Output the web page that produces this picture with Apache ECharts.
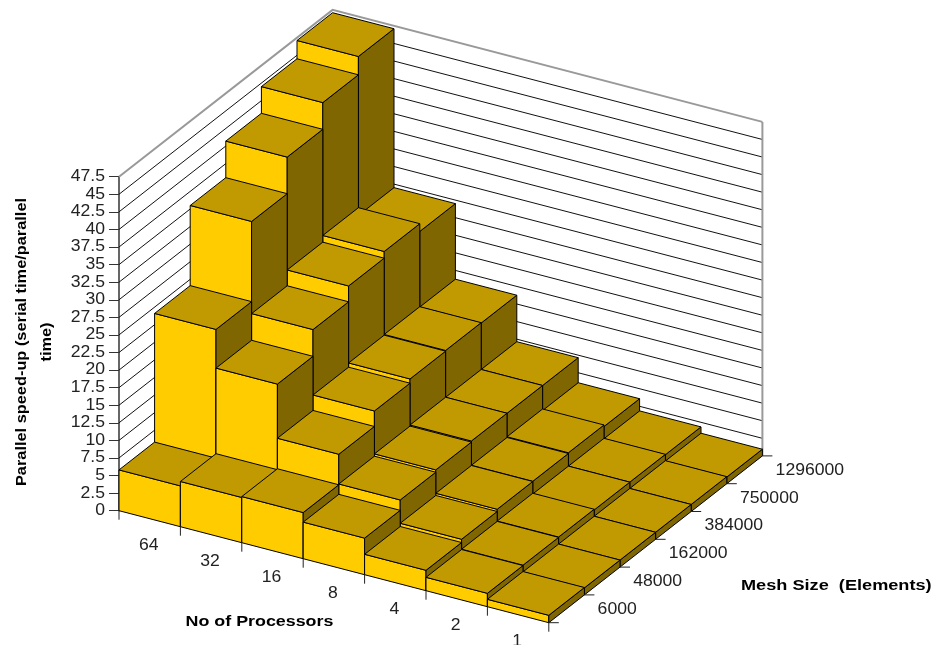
<!DOCTYPE html>
<html>
<head>
<meta charset="utf-8">
<style>html,body{margin:0;padding:0;background:#fff}#chart{width:940px;height:645px}</style>
<script src="https://cdn.jsdelivr.net/npm/echarts@6/dist/echarts.min.js"></script>
</head>
<body>
<div id="chart"></div>
<script>
// Categories along the two floor axes
const processorCounts = ['64', '32', '16', '8', '4', '2', '1'];
const meshSizes = ['6000', '48000', '162000', '384000', '750000', '1296000'];

// Parallel speed-up per mesh size, ordered as processorCounts
const speedUp6000    = [5.8, 6.43, 6.56, 5.2, 2.9, 1.9, 1.05];
const speedUp48000   = [24.1, 18.6, 10.9, 6.67, 3.36, 1.95, 1];
const speedUp162000  = [35.5, 22.4, 13.1, 7.0, 3.67, 2.0, 1];
const speedUp384000  = [40.7, 24.65, 13.7, 7.15, 3.7, 1.9, 1];
const speedUp750000  = [44.5, 25.6, 13.8, 7.14, 3.8, 1.9, 1];
const speedUp1296000 = [47.1, 24.5, 13.75, 7.14, 3.58, 1.85, 0.95];
const seriesByMesh = [speedUp6000, speedUp48000, speedUp162000, speedUp384000, speedUp750000, speedUp1296000];

const valueTicks = [];
for (let k = 0; k <= 19; k++) valueTicks.push(k * 2.5);

// Oblique projection: the cartesian grid supplies the front plane, these tilt it
const SLOPE_PER_PROC = 16;      // front edge falls this much per processor slot
const DEPTH_DX = 35.6;          // screen shift per mesh slot
const DEPTH_DY = -27.8;

const COLOR_FRONT = '#FFCC00';
const COLOR_TOP = '#C09A00';
const COLOR_SIDE = '#806600';
const TEXT_COLOR = '#222';
const LABEL_FONT = '16px "Liberation Sans", Arial, sans-serif';
const TITLE_FONT = 'bold 15px "Liberation Sans", Arial, sans-serif';
const LABEL_STRETCH = 1.1;      // wide-set numerals

function project(api, i, j, v) {
  const p = api.coord([i, v]);
  return [p[0] + j * DEPTH_DX, p[1] + i * SLOPE_PER_PROC + j * DEPTH_DY];
}

function face(points, color) {
  return {
    type: 'polygon',
    shape: { points },
    style: { fill: color, stroke: '#000', lineWidth: 1, lineJoin: 'round' }
  };
}

function labelText(text, x, y, align) {
  return {
    type: 'text',
    x: x,
    y: y,
    scaleX: LABEL_STRETCH,
    style: { text, x: 0, y: 0, fill: TEXT_COLOR, font: LABEL_FONT, textAlign: align, textVerticalAlign: 'middle' }
  };
}

function renderBar(params, api) {
  const i = api.value(0), j = api.value(1), v = api.value(2);
  const P = (a, b, h) => project(api, a, b, h);
  return {
    type: 'group',
    children: [
      face([P(i, j, 0), P(i + 1, j, 0), P(i + 1, j, v), P(i, j, v)], COLOR_FRONT),
      face([P(i + 1, j, 0), P(i + 1, j + 1, 0), P(i + 1, j + 1, v), P(i + 1, j, v)], COLOR_SIDE),
      face([P(i, j, v), P(i + 1, j, v), P(i + 1, j + 1, v), P(i, j + 1, v)], COLOR_TOP)
    ]
  };
}

function renderWallLine(params, api) {
  const v = api.value(0);
  const np = processorCounts.length, nm = meshSizes.length;
  const isTop = params.dataIndex === valueTicks.length - 1;
  return {
    type: 'polyline',
    shape: { points: [project(api, 0, 0, v), project(api, 0, nm, v), project(api, np, nm, v)] },
    style: { fill: null, stroke: isTop ? '#999' : '#111', lineWidth: isTop ? 2 : 1 }
  };
}

function renderRightEdge(params, api) {
  const np = processorCounts.length, nm = meshSizes.length;
  const a = project(api, np, nm, 0), b = project(api, np, nm, valueTicks[valueTicks.length - 1]);
  return {
    type: 'line',
    shape: { x1: a[0], y1: a[1], x2: b[0], y2: b[1] },
    style: { stroke: '#999', lineWidth: 2 }
  };
}

function renderValueLabel(params, api) {
  const v = api.value(0);
  const p = project(api, 0, 0, v);
  return labelText(String(v), p[0] - 14, p[1], 'right');
}

function renderProcessorAxis(params, api) {
  const idx = api.value(0);
  const children = [];
  const a = project(api, idx, 0, 0);
  children.push({ type: 'line', shape: { x1: a[0], y1: a[1], x2: a[0], y2: a[1] + 9 }, style: { stroke: '#222', lineWidth: 1 } });
  if (idx < processorCounts.length) {
    const c = project(api, idx + 0.5, 0, 0);
    children.push(labelText(processorCounts[idx], c[0] - 1, c[1] + 26.5, 'center'));
  }
  return { type: 'group', children };
}

function renderMeshAxis(params, api) {
  const idx = api.value(0);
  const np = processorCounts.length;
  const children = [];
  const a = project(api, np, idx, 0);
  children.push({ type: 'line', shape: { x1: a[0], y1: a[1], x2: a[0] + 10, y2: a[1] }, style: { stroke: '#222', lineWidth: 1 } });
  if (idx < meshSizes.length) {
    const c = project(api, np, idx + 0.5, 0);
    children.push(labelText(meshSizes[idx], c[0] + 31, c[1] + 0.5, 'left'));
  }
  return { type: 'group', children };
}

// Painter's order: far mesh rows first, left to right within a row
const barData = [];
for (let j = meshSizes.length - 1; j >= 0; j--) {
  for (let i = 0; i < processorCounts.length; i++) {
    barData.push([i, j, seriesByMesh[j][i]]);
  }
}
const procTickData = [];
for (let i = 0; i <= processorCounts.length; i++) procTickData.push([i]);
const meshTickData = [];
for (let j = 0; j <= meshSizes.length; j++) meshTickData.push([j]);

const chart = echarts.init(document.getElementById('chart'), null, { renderer: 'canvas' });

function customSeries(render, data, encodeDims, z) {
  return {
    type: 'custom',
    renderItem: render,
    data: data,
    silent: true,
    animation: false,
    clip: false,
    z: z,
    encode: { x: encodeDims.x, y: encodeDims.y }
  };
}

function titleText(text, x, y, align, rotation, stretch) {
  return {
    type: 'text', x, y, rotation, scaleX: stretch, silent: true,
    style: { text, x: 0, y: 0, fill: '#000', font: TITLE_FONT, textAlign: align, textVerticalAlign: 'middle' }
  };
}

chart.setOption({
  animation: false,
  backgroundColor: '#fff',
  grid: { left: 119, top: 176.7, width: 429.8, height: 334, containLabel: false },
  xAxis: { type: 'value', min: 0, max: processorCounts.length, show: false },
  yAxis: {
    type: 'value',
    min: 0,
    max: 47.5,
    interval: 2.5,
    splitLine: { show: false },
    axisLine: { show: true, onZero: false, lineStyle: { color: '#333', width: 1.5 } },
    axisTick: { show: true, length: 10, lineStyle: { color: '#333', width: 1 } },
    axisLabel: { show: false }
  },
  series: [
    customSeries(renderWallLine, valueTicks.map(v => [v]), { x: [], y: 0 }, 1),
    customSeries(renderRightEdge, [[0]], { x: [], y: [] }, 1),
    customSeries(renderBar, barData, { x: 0, y: 2 }, 3),
    customSeries(renderValueLabel, valueTicks.map(v => [v]), { x: [], y: 0 }, 4),
    customSeries(renderProcessorAxis, procTickData, { x: 0, y: [] }, 4),
    customSeries(renderMeshAxis, meshTickData, { x: [], y: [] }, 4)
  ],
  graphic: [
    titleText('Parallel speed-up (serial time/parallel', 22, 342, 'center', Math.PI / 2, 1.09),
    titleText('time)', 47, 342, 'center', Math.PI / 2, 1.09),
    titleText('No of Processors', 259.5, 622, 'center', 0, 1.19),
    titleText('Mesh Size  (Elements)', 741, 586, 'left', 0, 1.21)
  ]
});
</script>
</body>
</html>
